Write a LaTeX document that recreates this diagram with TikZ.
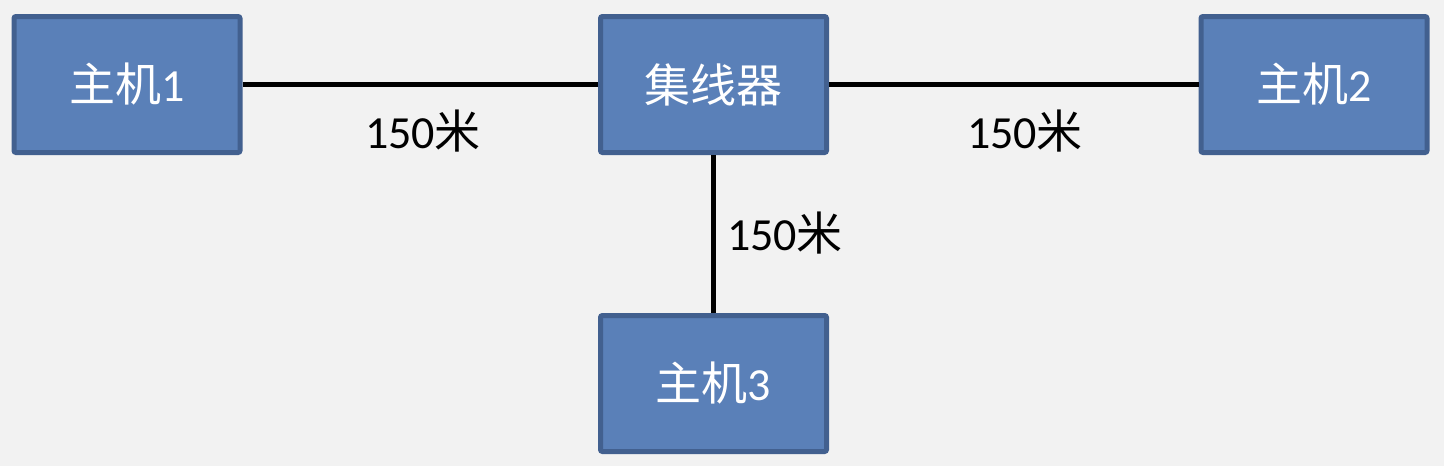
\documentclass[tikz,border=0pt]{standalone}
\usepackage{fontspec}
\setmainfont{Carlito}
\newfontfamily\cjk{Noto Sans CJK SC}
\definecolor{bg}{HTML}{F2F2F2}
\definecolor{boxfill}{HTML}{5A80B8}
\definecolor{boxline}{HTML}{42608F}
\begin{document}
\begin{tikzpicture}[x=0.5pt,y=-0.5pt,
  hostbox/.style={draw=boxline,fill=boxfill,line width=2.5pt,rounded corners=1pt,
    minimum width=113pt,minimum height=68pt,inner sep=0pt,text=white,
    font=\fontsize{23}{26}\selectfont},
  link/.style={line width=2.5pt,black},
  lbl/.style={font=\fontsize{23}{26}\selectfont,text=black,inner sep=0pt}]
\fill[bg] (0,0) rectangle (1444,466);
\useasboundingbox (0,0) rectangle (1444,466);
\node[hostbox] (h1) at (127,84.5) {{\cjk 主机}1};
\node[hostbox] (hub) at (713.5,84.5) {{\cjk 集线器}};
\node[hostbox] (h2) at (1314,84.5) {{\cjk 主机}2};
\node[hostbox] (h3) at (713.5,383.5) {{\cjk 主机}3};
\draw[link] (h1.east) -- (hub.west);
\draw[link] (hub.east) -- (h2.west);
\draw[link] (hub.south) -- (h3.north);
\node[lbl] (l1) at (423,131) {150{\cjk 米}};
\node[lbl] (l2) at (1025,131) {150{\cjk 米}};
\node[lbl] (l3) at (785,233) {150{\cjk 米}};
\end{tikzpicture}
\end{document}
